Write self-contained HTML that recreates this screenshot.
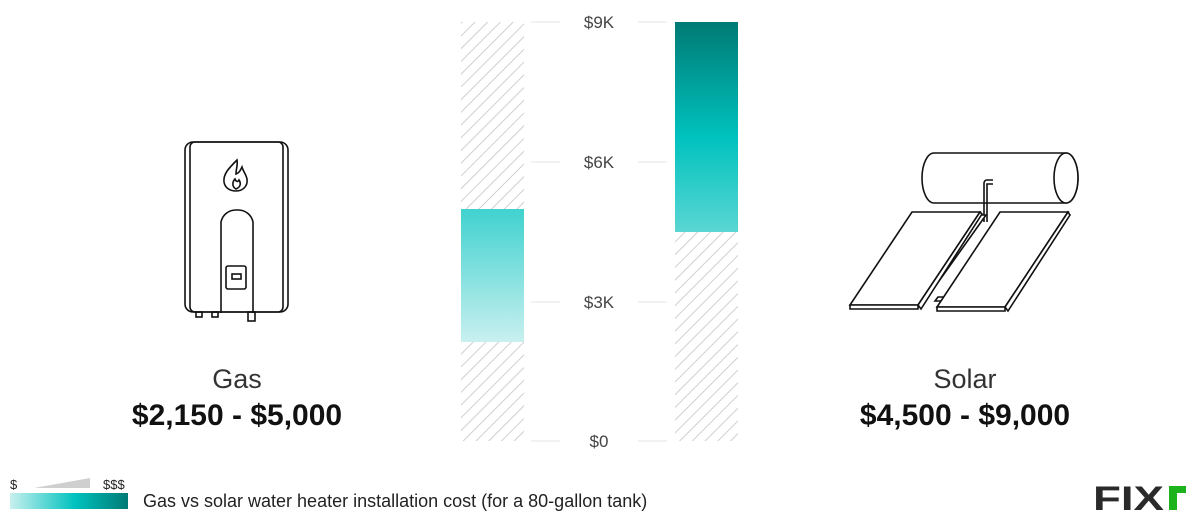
<!DOCTYPE html>
<html><head><meta charset="utf-8"><style>
body{margin:0;background:#fff;}
svg{display:block;font-family:"Liberation Sans",sans-serif;}
</style></head><body>
<svg width="1200" height="521" viewBox="0 0 1200 521" xmlns="http://www.w3.org/2000/svg">
<defs>
<pattern id="h" width="9" height="9" patternUnits="userSpaceOnUse" patternTransform="rotate(45)">
<line x1="0" y1="0" x2="0" y2="9" stroke="#c4c4c4" stroke-width="1.6"/>
</pattern>
<linearGradient id="g1" x1="0" y1="0" x2="0" y2="1">
<stop offset="0" stop-color="#40d2cf"/><stop offset="1" stop-color="#c8f0ef"/></linearGradient>
<linearGradient id="g2" x1="0" y1="0" x2="0" y2="1">
<stop offset="0" stop-color="#007a75"/><stop offset="0.55" stop-color="#00c2be"/><stop offset="1" stop-color="#5ad6d3"/></linearGradient>
<linearGradient id="g3" x1="0" y1="0" x2="1" y2="0">
<stop offset="0" stop-color="#c8f0ef"/><stop offset="0.55" stop-color="#00c2be"/><stop offset="1" stop-color="#007a75"/></linearGradient>
</defs>
<rect x="461" y="22" width="63" height="419" fill="url(#h)"/>
<rect x="675" y="22" width="63" height="419" fill="url(#h)"/>
<rect x="461" y="209" width="63" height="133" fill="url(#g1)"/>
<rect x="675" y="22" width="63" height="210" fill="url(#g2)"/>
<g stroke="#e3e3e3" stroke-width="1">
<line x1="531" y1="22" x2="560" y2="22"/><line x1="638" y1="22" x2="667" y2="22"/>
<line x1="531" y1="162" x2="560" y2="162"/><line x1="638" y1="162" x2="667" y2="162"/>
<line x1="531" y1="302" x2="560" y2="302"/><line x1="638" y1="302" x2="667" y2="302"/>
<line x1="531" y1="441" x2="560" y2="441"/><line x1="638" y1="441" x2="667" y2="441"/>
</g>
<g font-size="17" fill="#444" text-anchor="middle">
<text x="599" y="28">$9K</text><text x="599" y="168">$6K</text>
<text x="599" y="308">$3K</text><text x="599" y="447">$0</text>
</g>
<g fill="none" stroke="#111" stroke-width="1.6">
<rect x="185" y="142" width="103" height="170" rx="8"/>
<rect x="190" y="142" width="93" height="170" rx="5"/>
<path d="M221 313 V222 a15 15 0 0 1 15 -12 h2 a15 15 0 0 1 15 12 V313"/>
<rect x="226" y="266" width="20" height="23" rx="2"/>
<rect x="232" y="274" width="9" height="5"/>
<path d="M237 160 c-8 8 -14 14 -13 22 c1 6 6 9 12 9 c7 0 12 -5 11 -12 c-1 -5 -4 -8 -5 -12 c-2 4 -3 6 -6 7 c0 -5 2 -9 1 -14z"/>
<path d="M236 189 c-4 -2 -4 -7 -1 -10 c1 3 3 3 4 1 c2 3 2 7 -3 9z"/>
<rect x="196" y="312" width="6" height="5"/><rect x="212" y="312" width="6" height="5"/><rect x="248" y="312" width="7" height="9"/>
</g>
<g fill="#fff" stroke="#111" stroke-width="1.6">
<path d="M934 153 H1066 A12 25 0 0 1 1066 203 H934 A12 25 0 0 1 934 153 Z"/>
<ellipse cx="1066" cy="178" rx="12" ry="25"/>
<path d="M984 222 V183 a3 3 0 0 1 3 -3 h6 M987 222 V184 h6" fill="none"/>
<path d="M980 215 L986 215 L922 305 L918 305 Z"/>
<path d="M938 297 L960 297 L958 301 L935 301 Z"/>
<path d="M912 212 L980 212 L918 305 L850 305 Z"/>
<path d="M850 305 L918 305 L918 309 L850 309 Z"/>
<path d="M980 212 L982 214 L921 309 L918 305 Z"/>
<path d="M1000 212 L1068 212 L1005 307 L937 307 Z"/>
<path d="M937 307 L1005 307 L1005 311 L937 311 Z"/>
<path d="M1068 212 L1070 215 L1008 311 L1005 307 Z"/>
</g>
<g text-anchor="middle" fill="#111">
<text x="237" y="388" font-size="27" fill="#333">Gas</text>
<text x="237" y="425" font-size="30" font-weight="bold">$2,150 - $5,000</text>
<text x="965" y="388" font-size="27" fill="#333">Solar</text>
<text x="965" y="425" font-size="30" font-weight="bold">$4,500 - $9,000</text>
</g>
<text x="10" y="489" font-size="13" fill="#222">$</text>
<text x="103" y="489" font-size="13" fill="#222">$$$</text>
<path d="M34 488 L90 478 L90 488 Z" fill="#cfcfcf"/>
<rect x="10" y="493" width="118" height="16" fill="url(#g3)"/>
<text x="143" y="507" font-size="18" fill="#222">Gas vs solar water heater installation cost (for a 80-gallon tank)</text>
<text x="1093" y="510" font-size="34" font-weight="bold" fill="#2a2a2a" textLength="71" lengthAdjust="spacingAndGlyphs">FIX</text>
<rect x="1169" y="486" width="8" height="24" fill="#1db31d"/><rect x="1169" y="486" width="17" height="7" fill="#1db31d"/>
</svg>
</body></html>
